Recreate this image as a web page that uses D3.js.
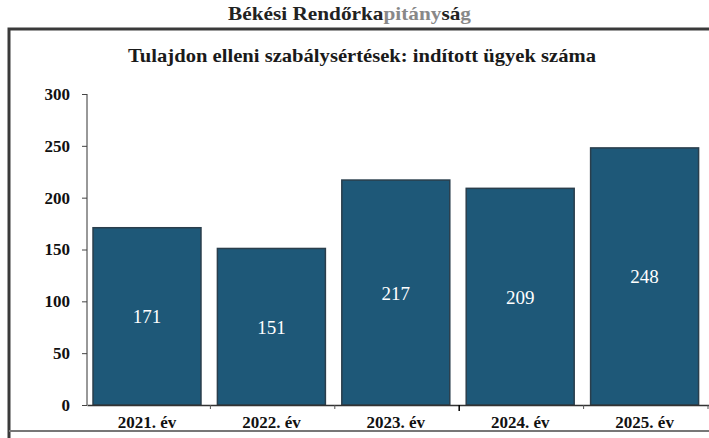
<!DOCTYPE html>
<html>
<head>
<meta charset="utf-8">
<script src="https://cdnjs.cloudflare.com/ajax/libs/d3/7.8.5/d3.min.js"></script>
<style>
  body { margin: 0; background: #fff; }
</style>
</head>
<body>
<div id="chart"></div>
<script>
var years = ["2021. év", "2022. év", "2023. év", "2024. év", "2025. év"];
var cases = [171, 151, 217, 209, 248];
var yTicks = [0, 50, 100, 150, 200, 250, 300];

var serif = '"Liberation Serif", "Times New Roman", serif';

var width = 709, height = 438;
var margin = { top: 94, right: 0, bottom: 33, left: 87 };
var innerW = width - margin.left - margin.right,
    innerH = height - margin.top - margin.bottom;

var svg = d3.select('#chart')
    .append('svg')
    .attr('width', width)
    .attr('height', height);

// Outer frame
svg.append('path')
    .attr('d', 'M9,' + height + ' L9,29 L' + width + ',29')
    .attr('fill', 'none')
    .attr('stroke', '#3a3a3a')
    .attr('stroke-width', 3);
svg.append('line')
    .attr('x1', 9).attr('x2', width)
    .attr('y1', 431).attr('y2', 431)
    .attr('stroke', '#777')
    .attr('stroke-width', 2);

// Header
var header = svg.append('text')
    .attr('x', 228)
    .attr('y', 20)
    .attr('font-size', 19)
    .attr('font-weight', 'bold')
    .attr('fill', '#222')
    .attr('textLength', 243)
    .attr('lengthAdjust', 'spacingAndGlyphs')
    .style('font-family', serif);
header.append('tspan').text('Békési Rendőrka');
header.append('tspan').attr('fill', '#888').text('pitány');
header.append('tspan').text('sá');
header.append('tspan').attr('fill', '#888').text('g');

// Title
svg.append('text')
    .attr('x', 128)
    .attr('y', 62)
    .attr('font-size', 19.5)
    .attr('font-weight', 'bold')
    .attr('fill', '#1a1a1a')
    .attr('textLength', 468)
    .attr('lengthAdjust', 'spacingAndGlyphs')
    .style('font-family', serif)
    .text('Tulajdon elleni szabálysértések: indított ügyek száma');

var g = svg.append('g')
    .attr('transform', 'translate(' + margin.left + ',' + margin.top + ')');

var x = d3.scaleBand()
    .domain(years)
    .range([0, innerW])
    .paddingInner(0.132)
    .paddingOuter(0.066)
    .align(0.366);

var y = d3.scaleLinear()
    .domain([0, 300])
    .range([innerH, 0]);

// Bars
g.selectAll('.bar')
    .data(cases)
    .enter()
    .append('rect')
    .attr('class', 'bar')
    .attr('x', function(d, i) { return x(years[i]); })
    .attr('y', function(d) { return y(d); })
    .attr('width', x.bandwidth())
    .attr('height', function(d) { return innerH - y(d); })
    .attr('fill', '#1e5878')
    .attr('stroke', '#2a3e4c')
    .attr('stroke-width', 1.5);

// Bar labels
g.selectAll('.bar-label')
    .data(cases)
    .enter()
    .append('text')
    .attr('class', 'bar-label')
    .attr('x', function(d, i) { return x(years[i]) + x.bandwidth() / 2; })
    .attr('y', function(d) { return (y(d) + innerH) / 2 + 7; })
    .attr('text-anchor', 'middle')
    .attr('font-size', 19)
    .attr('fill', '#fff')
    .style('font-family', serif)
    .text(function(d) { return d; });

// Y axis
var yAxis = d3.axisLeft(y)
    .tickValues(yTicks)
    .tickSize(5)
    .tickPadding(12);
var yG = g.append('g').attr('class', 'y-axis').call(yAxis);
yG.select('.domain').attr('stroke', '#333').attr('d', 'M0,' + innerH + 'V0');
yG.selectAll('.tick line').attr('stroke', '#444');
yG.selectAll('.tick text')
    .attr('font-size', 17)
    .attr('font-weight', 'bold')
    .attr('fill', '#111')
    .style('font-family', serif);

// X axis
var xAxis = d3.axisBottom(x).tickSize(0).tickPadding(11);
var xG = g.append('g')
    .attr('class', 'x-axis')
    .attr('transform', 'translate(0,' + innerH + ')')
    .call(xAxis);
xG.select('.domain').attr('stroke', '#333').attr('stroke-width', 1.5);
xG.selectAll('.tick text')
    .attr('font-size', 17)
    .attr('font-weight', 'bold')
    .attr('fill', '#111')
    .style('font-family', serif);

// Category separators
var step = x.step();
xG.selectAll('.sep')
    .data(d3.range(1, years.length + 1))
    .enter()
    .append('line')
    .attr('class', 'sep')
    .attr('x1', function(d) { return d * step - 1; })
    .attr('x2', function(d) { return d * step - 1; })
    .attr('y1', 0)
    .attr('y2', function(d) { return d === 3 ? 6 : 4; })
    .attr('stroke', function(d) { return d === 3 ? '#000' : '#555'; })
    .attr('stroke-width', function(d) { return d === 3 ? 1.5 : 1; });
</script>
</body>
</html>
